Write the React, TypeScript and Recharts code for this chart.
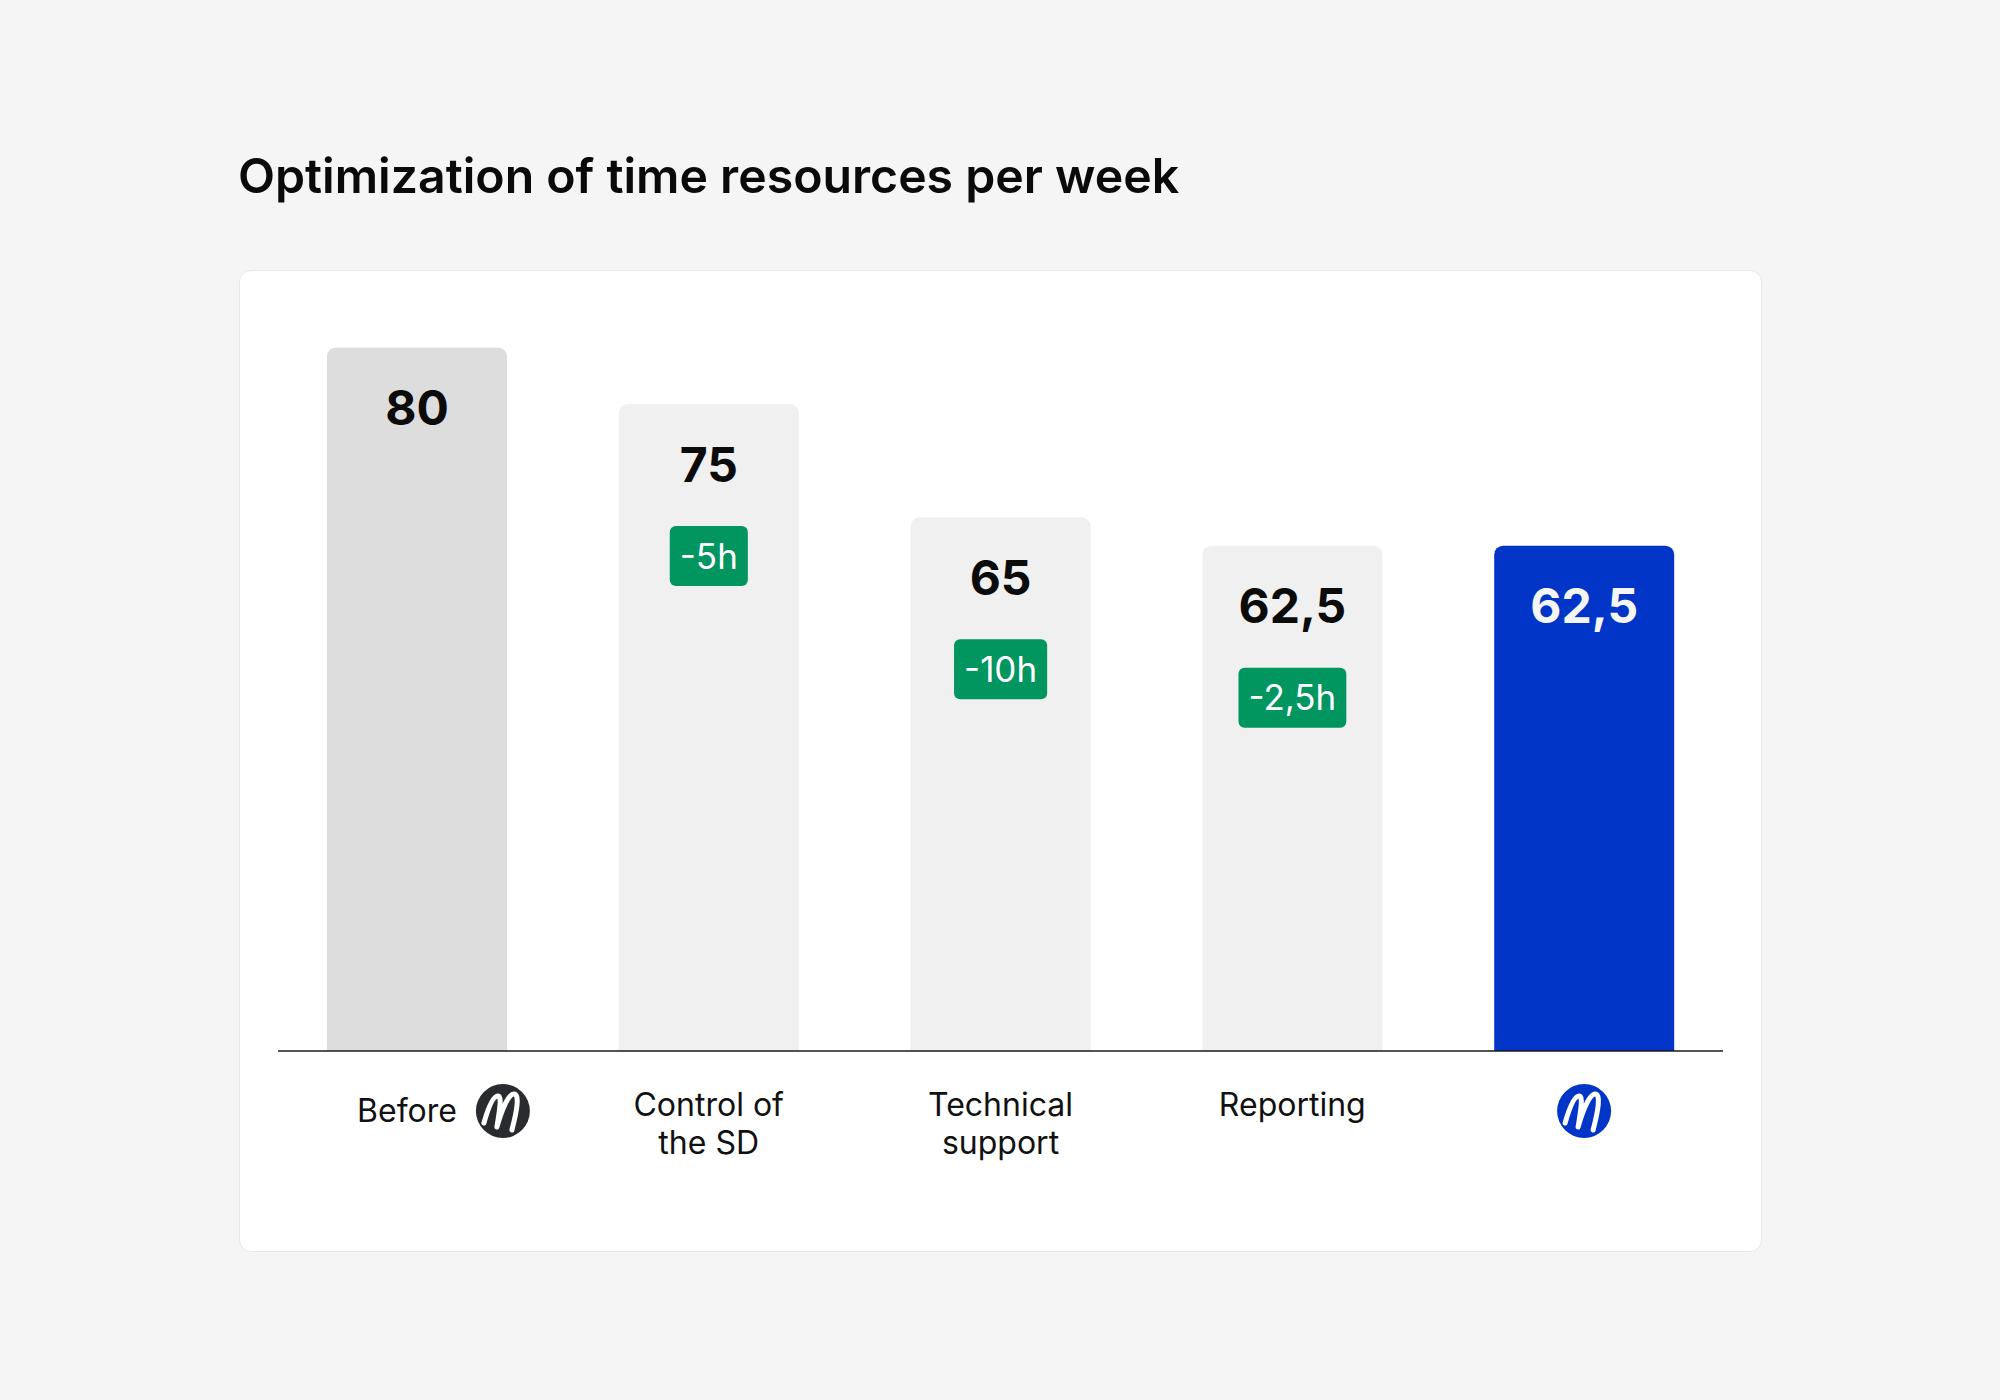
import React from "react";
import { BarChart, Bar, XAxis, YAxis, Rectangle } from "recharts";

// ---- data ----
const categories = ["Before", "Control of the SD", "Technical support", "Reporting", "After"];
const hours = [80, 75, 65, 62.5, 62.5];
const savings: (number | null)[] = [null, -5, -10, -2.5, null];
const tickLines: string[][] = [["Before"], ["Control of", "the SD"], ["Technical", "support"], ["Reporting"], []];
const titleText = "Optimization of time resources per week";

const data = categories.map((name, i) => ({ name, hours: hours[i], saving: savings[i] }));

// ---- styles ----
const FONT = "Inter, 'Noto Sans', sans-serif";
const barFills = ["#DDDDDD", "#F0F0F0", "#F0F0F0", "#F0F0F0", "#0035C8"];
const labelFills = ["#0B0B0B", "#0B0B0B", "#0B0B0B", "#0B0B0B", "#F5F5F5"];
const BADGE = "#01955F";

const fmt = (v: number) => String(v).replace(".", ",");

let _ctx: CanvasRenderingContext2D | null = null;
const measure = (text: string, font: string) => {
  try {
    if (!_ctx) _ctx = document.createElement("canvas").getContext("2d");
    if (_ctx) {
      _ctx.font = font;
      return _ctx.measureText(text).width;
    }
  } catch (e) {}
  return text.length * 19;
};

const BarShape = (props: any) => {
  const { x, y, width, height, index } = props;
  const cx = x + width / 2;
  const v = hours[index];
  const s = savings[index];
  const badgeText = s != null ? `${fmt(s)}h` : "";
  const bw = s != null ? measure(badgeText, `400 35px Inter`) + 20 : 0;
  return (
    <g>
      <Rectangle x={x} y={y} width={width} height={height} radius={[9, 9, 0, 0]} fill={barFills[index]} />
      <text
        x={cx}
        y={y + 77.5}
        textAnchor="middle"
        fontFamily={FONT}
        fontSize={48}
        fontWeight={700}
        fill={labelFills[index]}
      >
        {fmt(v)}
      </text>
      {s != null && (
        <g>
          <rect x={cx - bw / 2} y={y + 122} width={bw} height={60} rx={6} ry={6} fill={BADGE} />
          <text
            x={cx}
            y={y + 122 + 30 + 12.5}
            textAnchor="middle"
            fontFamily={FONT}
            fontSize={35}
            fontWeight={400}
            fill="#FFFFFF"
          >
            {badgeText}
          </text>
        </g>
      )}
    </g>
  );
};

const Logo = ({ cx, cy, fill }: { cx: number; cy: number; fill: string }) => (
  <g transform={`translate(${cx},${cy})`}>
    <circle r={27} fill={fill} />
    <path
      d="M -19 12 C -15 -2, -10 -15, -5 -15 C -1 -15, -3 -2, -6 16 C -2 2, 5 -17, 11 -17 C 17 -17, 14 0, 9 19"
      fill="none"
      stroke="#FFFFFF"
      strokeWidth={5}
      strokeLinecap="round"
      strokeLinejoin="round"
    />
  </g>
);

const CustomTick = (props: any) => {
  const { x, y, payload } = props;
  const index = payload.index ?? categories.indexOf(payload.value);
  const lines = tickLines[index] || [];
  if (index === 0) {
    return (
      <g>
        <text x={x + 40} y={y + 71} textAnchor="end" fontFamily={FONT} fontSize={32} fill="#111111">
          {lines[0]}
        </text>
        <Logo cx={x + 86} cy={y + 60} fill="#2A2B2F" />
      </g>
    );
  }
  if (index === categories.length - 1) {
    return <Logo cx={x} cy={y + 60} fill="#0035C8" />;
  }
  return (
    <g>
      {lines.map((l, i) => (
        <text key={i} x={x} y={y + 65 + i * 37.5} textAnchor="middle" fontFamily={FONT} fontSize={32} fill="#111111">
          {l}
        </text>
      ))}
    </g>
  );
};

export default function App() {
  return (
    <div
      style={{
        position: "absolute",
        left: 0,
        top: 0,
        width: 2000,
        height: 1400,
        background: "#F5F5F5",
        fontFamily: FONT,
        overflow: "hidden",
      }}
    >
      <div
        style={{
          position: "absolute",
          left: 238,
          top: 152,
          fontSize: 48.2,
          lineHeight: "48px",
          fontWeight: 600,
          color: "#0A0A0A",
          whiteSpace: "nowrap",
        }}
      >
        {titleText}
      </div>
      <div
        style={{
          position: "absolute",
          left: 239,
          top: 270,
          width: 1523,
          height: 982,
          boxSizing: "border-box",
          background: "#FFFFFF",
          border: "1.5px solid #E8E8E8",
          borderRadius: 12,
        }}
      />
      <div style={{ position: "absolute", left: 0, top: 0 }}>
        <BarChart
          width={2000}
          height={1400}
          data={data}
          margin={{ top: 347.4, right: 277, bottom: 229, left: 278 }}
        >
          <XAxis
            dataKey="name"
            height={120}
            tickLine={false}
            tickSize={0}
            tickMargin={0}
            interval={0}
            padding={{ left: -7, right: -7 }}
            axisLine={{ stroke: "#1A1A1A", strokeWidth: 1.5 }}
            tick={<CustomTick />}
          />
          <YAxis hide type="number" scale="linear" domain={[17.9, 80]} allowDataOverflow />
          <Bar dataKey="hours" barSize={180} isAnimationActive={false} shape={BarShape} />
        </BarChart>
      </div>
    </div>
  );
}
